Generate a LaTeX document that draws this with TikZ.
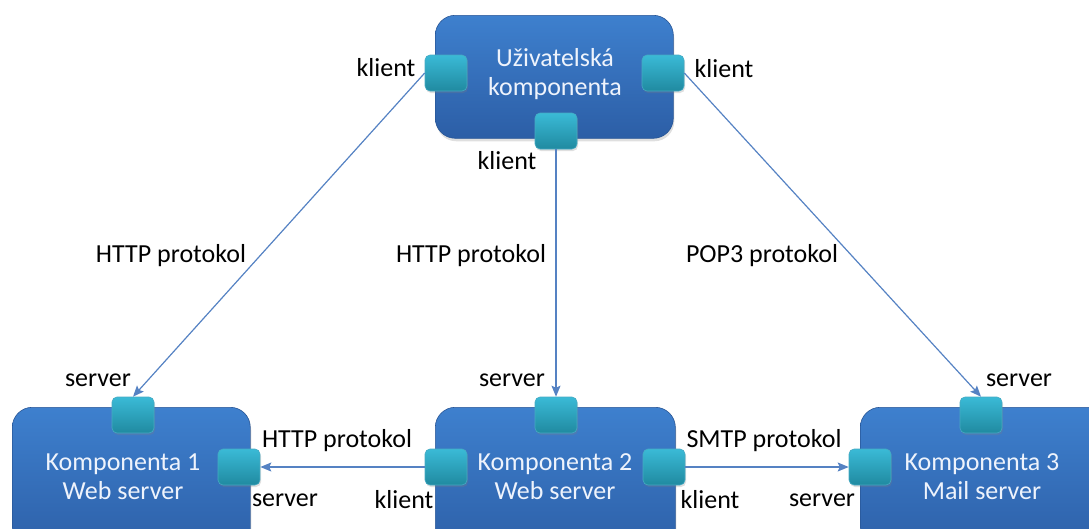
\documentclass[tikz,border=0pt]{standalone}
\usepackage{fontspec}
\setmainfont{Carlito}
\usetikzlibrary{arrows.meta,shadows,shadings}
\definecolor{boxtop}{RGB}{62,128,206}
\definecolor{boxbot}{RGB}{44,94,166}
\definecolor{boxedge}{RGB}{40,86,150}
\definecolor{porttop}{RGB}{58,186,214}
\definecolor{portbot}{RGB}{32,138,160}
\definecolor{portedge}{RGB}{70,170,195}
\definecolor{wire}{RGB}{85,130,195}
\definecolor{boxtext}{RGB}{238,243,252}
\tikzset{
  comp/.style={draw=boxedge, line width=0.6pt, rounded corners=20pt,
    top color=boxtop, bottom color=boxbot, anchor=north west,
    drop shadow={opacity=0.25, shadow xshift=1pt, shadow yshift=-3pt}},
  port/.style={draw=portedge, line width=0.6pt, rounded corners=5pt,
    top color=porttop, bottom color=portbot,
    minimum width=42pt, minimum height=36pt, inner sep=0pt,
    drop shadow={opacity=0.25, shadow xshift=1pt, shadow yshift=-2pt}},
  comptext/.style={text=boxtext, align=center, font=\fontsize{26}{29}\selectfont},
  lbl/.style={text=black, inner sep=0pt, font=\fontsize{26}{29}\selectfont},
  link/.style={draw=wire, line width=1.2pt, -{Stealth[length=11pt,width=9pt,inset=2pt]}}
}
\begin{document}
\begin{tikzpicture}[x=1pt,y=-1pt]
\useasboundingbox (0,0) rectangle (1089,528);
\clip (0,0) rectangle (1089,528);

% component bodies
\node[comp, minimum width=238pt, minimum height=123pt] (uk) at (435,15) {};
\node[comp, minimum width=238pt, minimum height=150pt] (k1) at (12,407) {};
\node[comp, minimum width=240pt, minimum height=150pt] (k2) at (435,407) {};
\node[comp, minimum width=250pt, minimum height=150pt] (k3) at (860,407) {};

% component captions
\node[comptext] (ukt) at (555,74) {Uživatelská\\komponenta};
\node[comptext] (k1t) at (123,477) {Komponenta 1\\Web server};
\node[comptext] (k2t) at (555,477) {Komponenta 2\\Web server};
\node[comptext] (k3t) at (982,477) {Komponenta 3\\Mail server};

% ports
\node[port] (ukL) at (446,73) {};
\node[port] (ukR) at (663,73) {};
\node[port] (ukB) at (556,131) {};
\node[port] (p1T) at (133,415) {};
\node[port] (p1R) at (239,467) {};
\node[port] (p2T) at (556,415) {};
\node[port] (p2L) at (446,467) {};
\node[port] (p2R) at (664,467) {};
\node[port] (p3T) at (981,415) {};
\node[port] (p3L) at (870,467) {};

% connectors
\draw[link] (ukL.west) -- (p1T.north);
\draw[link] (ukB.south) -- (p2T.north);
\draw[link] (ukR.east) -- (p3T.north);
\draw[link] (p2L.west) -- (p1R.east);
\draw[link] (p2R.east) -- (p3L.west);

% role labels
\node[lbl] (l1) at (386,68) {klient};
\node[lbl] (l2) at (724,69) {klient};
\node[lbl] (l3) at (507,161) {klient};
\node[lbl] (l4) at (98,380) {server};
\node[lbl] (l5) at (512,380) {server};
\node[lbl] (l6) at (1019,380) {server};
\node[lbl] (l7) at (285,500) {server};
\node[lbl] (l8) at (404,500) {klient};
\node[lbl] (l9) at (710,500) {klient};
\node[lbl] (l10) at (822,500) {server};

% protocol labels
\node[lbl] (h1) at (171,256) {HTTP protokol};
\node[lbl] (h2) at (471,256) {HTTP protokol};
\node[lbl] (h3) at (762,256) {POP3 protokol};
\node[lbl] (h4) at (337,441) {HTTP protokol};
\node[lbl] (h5) at (764,441) {SMTP protokol};
\end{tikzpicture}
\end{document}
